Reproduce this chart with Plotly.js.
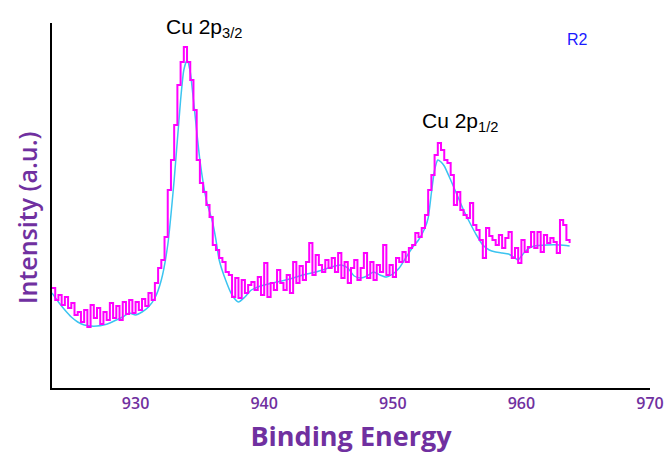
<!DOCTYPE html>
<html>
<head>
<meta charset="utf-8">
<script src="https://cdn.plot.ly/plotly-3.0.1.min.js"></script>
<style>html,body{margin:0;padding:0;background:#fff}#chart{width:665px;height:454px}</style>
</head>
<body>
<div id="chart"></div>
<script>
// Measured spectrum (binding energy, eV)
const measuredEnergy = [
923.5,923.75,924,924.25,924.5,924.75,925,925.25,925.5,925.75,926,926.25,926.5,926.75,927,927.25,927.5,927.75,928,928.25,928.5,928.75,929,929.25,929.5,929.75,
930,930.25,930.5,930.75,931,931.25,931.5,931.75,932,932.25,932.5,932.75,933,933.25,933.5,933.75,934,934.25,934.5,934.75,935,935.25,935.5,935.75,936,936.25,936.5,936.75,937,937.25,937.5,937.75,938,938.25,938.5,938.75,939,939.25,939.5,939.75,
940,940.25,940.5,940.75,941,941.25,941.5,941.75,942,942.25,942.5,942.75,943,943.25,943.5,943.75,944,944.25,944.5,944.75,945,945.25,945.5,945.75,946,946.25,946.5,946.75,947,947.25,947.5,947.75,948,948.25,948.5,948.75,949,949.25,949.5,949.75,
950,950.25,950.5,950.75,951,951.25,951.5,951.75,952,952.25,952.5,952.75,953,953.25,953.5,953.75,954,954.25,954.5,954.75,955,955.25,955.5,955.75,956,956.25,956.5,956.75,957,957.25,957.5,957.75,958,958.25,958.5,958.75,959,959.25,959.5,959.75,
960,960.25,960.5,960.75,961,961.25,961.5,961.75,962,962.25,962.5,962.75,963,963.25,963.5,963.75];
const measuredIntensity = [
100,88,93,83,91,80,85,73,76,66,78,61,83,70,80,64,76,68,85,70,82,68,86,74,88,75,
86,78,89,82,95,88,105,120,128,151,198,228,263,303,326,341,326,308,278,228,205,196,183,171,143,138,130,126,116,113,91,110,90,108,95,103,106,98,111,93,
125,91,105,98,118,105,98,113,95,126,105,122,108,126,145,113,133,123,116,128,120,130,116,135,110,126,105,120,128,108,120,135,110,126,108,123,116,143,113,123,
111,130,126,136,126,140,143,155,151,160,173,198,213,233,245,238,228,225,213,183,196,178,173,170,185,163,158,148,130,160,152,148,143,153,140,150,156,130,140,125,
148,136,141,156,140,156,136,153,145,150,146,135,168,163,148,145];

// Fitted envelope
const fitEnergy = [
923.5,924,924.5,925,925.5,926,926.5,927,927.5,928,928.5,929,929.5,930,930.5,931,931.5,932,932.5,933,933.5,933.75,934,934.25,934.5,935,935.5,936,936.25,936.5,937,937.5,938,938.5,939,939.5,
940,941,942,943,944,945,945.5,946,946.5,947,947.5,948,948.5,949,949.5,950,950.5,951,951.5,952,952.5,952.75,953,953.25,953.5,953.75,954,954.5,955,955.5,956,956.5,957,957.5,958,958.5,959,959.5,959.75,
960,960.5,961,962,963,963.75];
const fitIntensity = [
95,86,78,71,66,63,62,62,63,65,68,71,75,73,76,81,90,108,143,208,288,318,328,316,288,228,188,165,148,128,108,93,86,91,98,101,
103,106,109,113,116,120,122,123,120,112,110,112,116,113,111,114,120,130,140,148,160,170,195,218,228,226,222,208,193,178,165,153,143,138,136,135,134,130,128,
132,139,142,143,143,142];

const tickValues = [930,940,950,960,970];
const tickLabels = ['930','940','950','960','970'];

const purple = '#7030A0';

const traces = [
  {x: fitEnergy, y: fitIntensity, type: 'scatter', mode: 'lines',
   line: {color: '#3cc4f0', width: 1.5, shape: 'spline', smoothing: 0.6}, hoverinfo: 'skip'},
  {x: measuredEnergy, y: measuredIntensity, type: 'scatter', mode: 'lines',
   line: {color: '#ff00ff', width: 2, shape: 'hv'}, hoverinfo: 'skip'}
];

const layout = {
  width: 665, height: 454,
  margin: {l: 52, r: 15, t: 23, b: 66},
  paper_bgcolor: '#ffffff', plot_bgcolor: '#ffffff',
  showlegend: false,
  xaxis: {
    range: [923.5, 970], showgrid: false, zeroline: false,
    showline: true, linecolor: '#000', linewidth: 2,
    ticks: '', tickmode: 'array', tickvals: tickValues, ticktext: tickLabels,
    tickfont: {family: 'Open Sans', size: 16, color: purple, weight: 600},
    title: {text: 'Binding Energy', font: {family: 'Open Sans', size: 27, color: purple, weight: 700}, standoff: 18},
    automargin: false
  },
  yaxis: {
    range: [0, 365], showgrid: false, zeroline: false,
    showline: true, linecolor: '#000', linewidth: 2,
    ticks: '', showticklabels: false,
    automargin: false
  },
  annotations: [
    {x: -0.042, y: 0.468, xref: 'paper', yref: 'paper', text: 'Intensity (a.u.)', textangle: -90,
     showarrow: false, xanchor: 'center', yanchor: 'middle',
     font: {family: 'Open Sans', size: 25, color: purple, weight: 600}},
    {x: 935.3, y: 360, xref: 'x', yref: 'y', text: 'Cu 2p<sub>3/2</sub>', showarrow: false,
     font: {family: 'Liberation Sans', size: 21, color: '#000'}},
    {x: 955.2, y: 266, xref: 'x', yref: 'y', text: 'Cu 2p<sub>1/2</sub>', showarrow: false,
     font: {family: 'Liberation Sans', size: 21, color: '#000'}},
    {x: 964.4, y: 349, xref: 'x', yref: 'y', text: 'R2', showarrow: false,
     font: {family: 'Liberation Sans', size: 16, color: '#1a1aff'}}
  ]
};

Plotly.newPlot('chart', traces, layout, {staticPlot: true, displayModeBar: false});
</script>
</body>
</html>
